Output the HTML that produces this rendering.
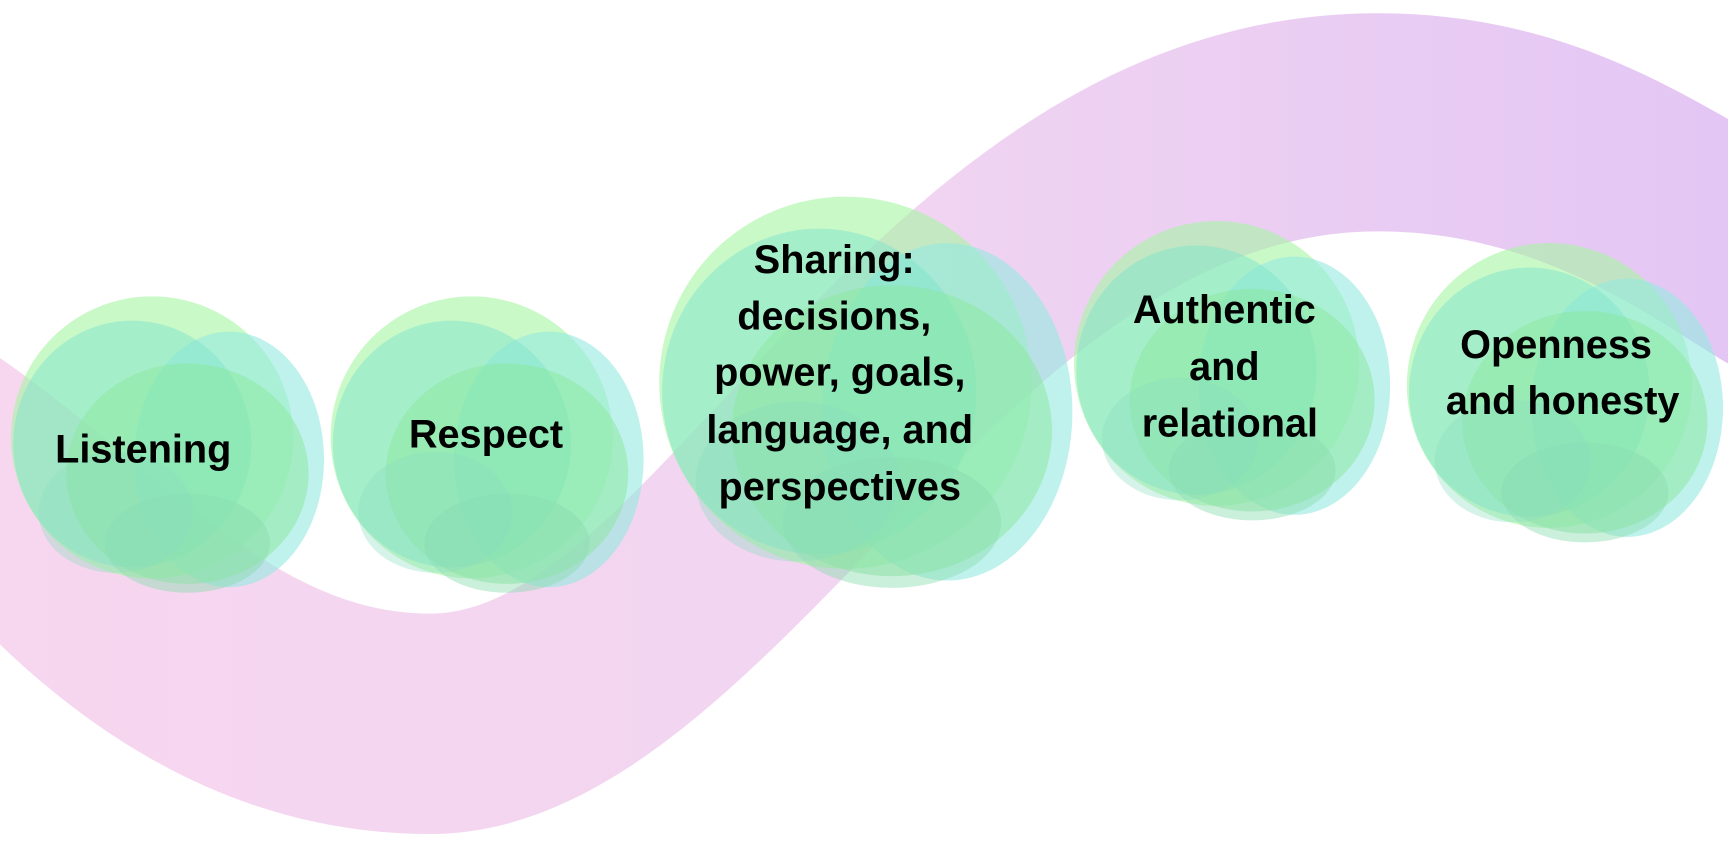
<!DOCTYPE html>
<html><head><meta charset="utf-8"><style>
html,body{margin:0;padding:0;background:#fff;}
svg{display:block;}
text{font-family:"Liberation Sans",Arial,sans-serif;font-weight:bold;font-size:36px;fill:#000;text-anchor:middle;}
</style></head><body>
<svg width="1728" height="845" viewBox="0 0 1568 767" preserveAspectRatio="none">
<defs>
<linearGradient id="band" x1="0" y1="0" x2="1" y2="0">
<stop offset="0" stop-color="#f7d6ef"/>
<stop offset="0.5" stop-color="#f1d5f1"/>
<stop offset="1" stop-color="#e4c6f4"/>
</linearGradient>
<g id="cl">
<ellipse cx="-12" cy="-8" rx="128" ry="128" fill="#a6f5a4" opacity="0.6"/>
<ellipse cx="58" cy="12" rx="86" ry="116" fill="#94eadf" opacity="0.6"/>
<ellipse cx="-30" cy="-2" rx="108" ry="112" fill="#7fe3cc" opacity="0.5"/>
<ellipse cx="20" cy="25" rx="110" ry="100" fill="#8ae89c" opacity="0.5"/>
<ellipse cx="20" cy="88" rx="75" ry="45" fill="#8adcb0" opacity="0.45"/>
<ellipse cx="-45" cy="60" rx="70" ry="55" fill="#8adcc0" opacity="0.35"/>
</g>
</defs>
<path d="M0,325 C150,430 250,557 390,557 C600,557 800,12 1250,12 C1400,12 1500,70 1568,108 L1568,330 C1500,290 1400,210 1250,210 C900,210 700,757 390,757 C250,757 120,700 0,585 Z" fill="url(#band)"/>
<use href="#cl" transform="translate(150,405)"/>
<use href="#cl" transform="translate(440,405)"/>
<use href="#cl" transform="translate(783,358) scale(1.32)"/>
<use href="#cl" transform="translate(1116,338) scale(1.01)"/>
<use href="#cl" transform="translate(1418,358) scale(1.01)"/>
<text x="130" y="420">Listening</text>
<text x="441" y="406">Respect</text>
<text x="757" y="248">Sharing:</text>
<text x="757" y="299">decisions,</text>
<text x="762" y="350">power, goals,</text>
<text x="762" y="402">language, and</text>
<text x="762" y="454">perspectives</text>
<text x="1111" y="293">Authentic</text>
<text x="1111" y="345">and</text>
<text x="1116" y="396">relational</text>
<text x="1412" y="325">Openness</text>
<text x="1418" y="376">and honesty</text>
</svg>
</body></html>
